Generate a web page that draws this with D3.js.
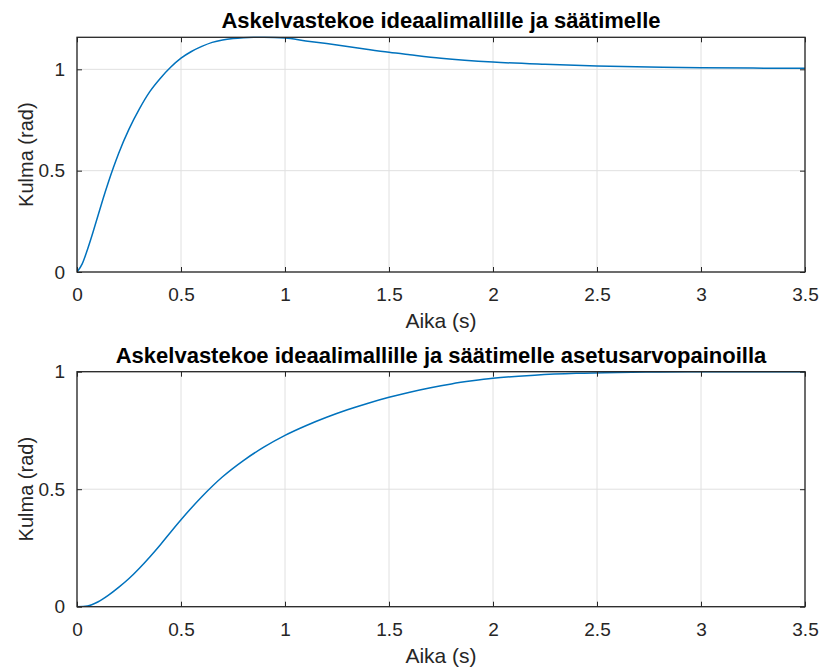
<!DOCTYPE html>
<html>
<head>
<meta charset="utf-8">
<script src="https://cdn.jsdelivr.net/npm/d3@7"></script>
<style>
  html, body { margin: 0; padding: 0; background: #fff; }
  svg { display: block; font-family: "Liberation Sans", Arial, Helvetica, sans-serif; }
</style>
</head>
<body>
<svg id="fig" width="825" height="670"></svg>
<script>
// Step response of the ideal model with the controller (upper panel)
const timeTop = [0, 0.025, 0.05, 0.075, 0.1, 0.125, 0.15, 0.175, 0.2, 0.25, 0.3, 0.35, 0.4, 0.45, 0.5,
                 0.55, 0.6, 0.65, 0.7, 0.75, 0.8, 0.85, 0.9, 0.95, 1.0, 1.1, 1.2, 1.3, 1.4, 1.5, 1.6,
                 1.75, 2.0, 2.25, 2.5, 2.75, 3.0, 3.25, 3.5];
const angleTop = [0, 0.04, 0.11, 0.19, 0.275, 0.36, 0.44, 0.515, 0.585, 0.705, 0.805, 0.89, 0.955, 1.01, 1.055,
                  1.088, 1.113, 1.133, 1.145, 1.152, 1.156, 1.158, 1.158, 1.157, 1.154, 1.14, 1.127, 1.113, 1.098, 1.084, 1.072,
                  1.055, 1.036, 1.025, 1.017, 1.012, 1.008, 1.006, 1.005];

// Step response with setpoint weighting (lower panel)
const timeBottom = [0, 0.05, 0.1, 0.15, 0.2, 0.25, 0.3, 0.35, 0.4, 0.45, 0.5, 0.6, 0.7, 0.8, 0.9, 1.0,
                    1.1, 1.2, 1.3, 1.4, 1.5, 1.6, 1.7, 1.8, 1.9, 2.0, 2.2, 2.4, 2.6, 2.8, 3.0, 3.25, 3.5];
const angleBottom = [0, 0.003, 0.02, 0.048, 0.082, 0.12, 0.164, 0.212, 0.263, 0.317, 0.37, 0.468, 0.553, 0.622, 0.68, 0.729,
                     0.77, 0.806, 0.838, 0.866, 0.891, 0.913, 0.932, 0.948, 0.961, 0.972, 0.985, 0.993, 0.997, 0.999, 1.0, 1.0, 1.0];

const xTicks = [0, 0.5, 1, 1.5, 2, 2.5, 3, 3.5];
const yTicks = [0, 0.5, 1];

const titles = ["Askelvastekoe ideaalimallille ja säätimelle",
                "Askelvastekoe ideaalimallille ja säätimelle asetusarvopainoilla"];
const xLabel = "Aika (s)";
const yLabel = "Kulma (rad)";

const svg = d3.select("#fig");
const axisColor = "#262626";
const gridColor = "#e0e0e0";
const lineColor = "#0072BD";
const tickLen = 5;

const panels = [
  { t: timeTop, y: angleTop, yMax: 1.158, top: 37.3, bottom: 272, title: titles[0] },
  { t: timeBottom, y: angleBottom, yMax: 1.0, top: 371.7, bottom: 606.7, title: titles[1] }
];
const left = 77, right = 805;

panels.forEach((p, i) => {
  const x = d3.scaleLinear().domain([0, 3.5]).range([left, right]);
  const y = d3.scaleLinear().domain([0, p.yMax]).range([p.bottom, p.top]);
  const g = svg.append("g");

  // grid
  g.selectAll(null).data(xTicks).join("line")
    .attr("x1", d => x(d)).attr("x2", d => x(d))
    .attr("y1", p.top).attr("y2", p.bottom)
    .attr("stroke", gridColor).attr("stroke-width", 1);
  g.selectAll(null).data(yTicks).join("line")
    .attr("x1", left).attr("x2", right)
    .attr("y1", d => y(d)).attr("y2", d => y(d))
    .attr("stroke", gridColor).attr("stroke-width", 1);

  // data line, clipped to the axes box
  const clipId = "clip" + i;
  svg.append("clipPath").attr("id", clipId).append("rect")
    .attr("x", left).attr("y", p.top - 1).attr("width", right - left).attr("height", p.bottom - p.top + 1);
  const line = d3.line().x(d => x(d[0])).y(d => y(d[1])).curve(d3.curveMonotoneX);
  g.append("path")
    .datum(d3.zip(p.t, p.y))
    .attr("clip-path", `url(#${clipId})`)
    .attr("fill", "none").attr("stroke", lineColor).attr("stroke-width", 1.5)
    .attr("d", line);

  // axes with inward ticks on all four sides
  const xb = d3.axisBottom(x).tickValues(xTicks).tickSizeInner(-tickLen).tickSizeOuter(0)
    .tickPadding(16).tickFormat(d3.format("~g"));
  const xt = d3.axisTop(x).tickValues(xTicks).tickSizeInner(-tickLen).tickSizeOuter(0).tickFormat("");
  const yl = d3.axisLeft(y).tickValues(yTicks).tickSizeInner(-tickLen).tickSizeOuter(0)
    .tickPadding(12).tickFormat(d3.format("~g"));
  const yr = d3.axisRight(y).tickValues(yTicks).tickSizeInner(-tickLen).tickSizeOuter(0).tickFormat("");

  const styleAxis = sel => {
    sel.select(".domain").remove();
    sel.selectAll(".tick line").attr("stroke", axisColor);
    sel.selectAll(".tick text").attr("fill", axisColor).style("font-size", "19px")
      .style("font-family", "'Liberation Sans', Arial, sans-serif");
  };
  g.append("g").attr("transform", `translate(0,${p.bottom})`).call(xb).call(styleAxis);
  g.append("g").attr("transform", `translate(0,${p.top})`).call(xt).call(styleAxis);
  g.append("g").attr("transform", `translate(${left},0)`).call(yl).call(styleAxis);
  g.append("g").attr("transform", `translate(${right},0)`).call(yr).call(styleAxis);

  // box
  g.append("rect").attr("x", left).attr("y", p.top)
    .attr("width", right - left).attr("height", p.bottom - p.top)
    .attr("fill", "none").attr("stroke", axisColor).attr("stroke-width", 1.3);

  // labels
  g.append("text").attr("x", (left + right) / 2).attr("y", p.bottom + 56)
    .attr("text-anchor", "middle").attr("fill", axisColor).style("font-size", "21px")
    .text(xLabel);
  g.append("text")
    .attr("transform", `translate(33,${(p.top + p.bottom) / 2}) rotate(-90)`)
    .attr("text-anchor", "middle").attr("fill", axisColor).style("font-size", "20px")
    .text(yLabel);
  g.append("text").attr("x", (left + right) / 2).attr("y", p.top - 9)
    .attr("text-anchor", "middle").attr("fill", "#000").style("font-size", "22px")
    .style("font-weight", "bold").text(p.title);
});
</script>
</body>
</html>
